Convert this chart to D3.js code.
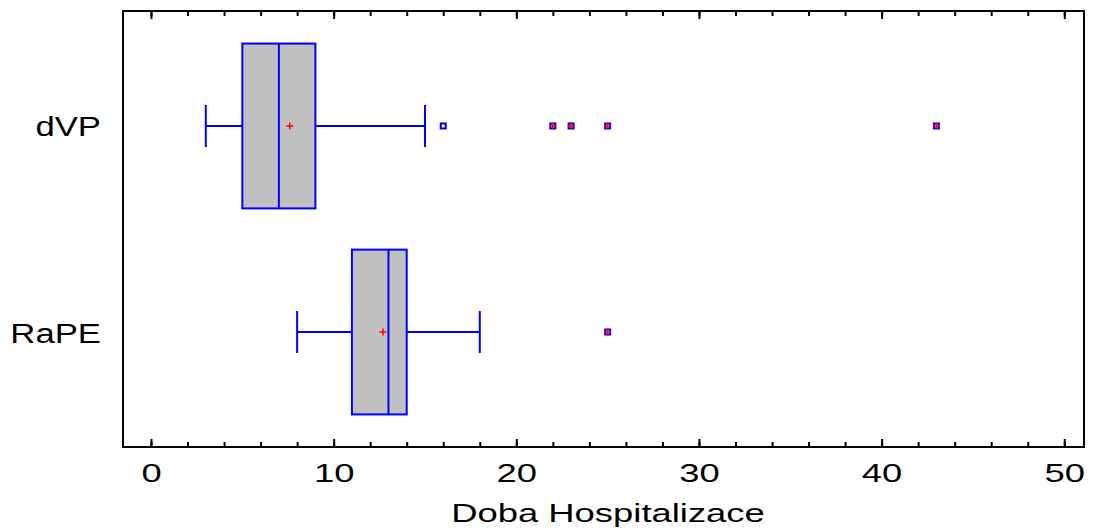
<!DOCTYPE html>
<html>
<head>
<meta charset="utf-8">
<script src="https://cdn.jsdelivr.net/npm/d3@7"></script>
<style>
  body { margin: 0; background: #fff; }
  svg { display: block; }
  text { font-family: "Liberation Sans", Arial, sans-serif; fill: #000; }
</style>
</head>
<body>
<div id="app"></div>
<script>
// box plot data
const categories = ["dVP", "RaPE"];
const lowWhisker = [3, 8];
const q1 = [5, 11];
const median = [7, 13];
const q3 = [9, 14];
const highWhisker = [15, 18];
const means = [7.6, 12.7];
const outliers = [[16, 22, 23, 25, 43], [25]];
const majorTicks = [0, 10, 20, 30, 40, 50];
const minorTicks = d3.range(0, 51, 2);
const xTitle = "Doba Hospitalizace";

const W = 1093, H = 528;
const plot = { left: 123, right: 1084, top: 11, bottom: 447 };

const svg = d3.select("#app").append("svg")
  .attr("width", W).attr("height", H);

const x = d3.scaleLinear().domain([-1.533, 51.08]).range([plot.left, plot.right]);
const y = d3.scalePoint().domain(categories).range([plot.top, plot.bottom]).padding(0.558);
const boxH = y.step() * 0.8;
const blue = "#0000ff";

//axes (ticks point inward)
const bottomAxis = svg.append("g").attr("transform", `translate(0,${plot.bottom})`);
bottomAxis.call(d3.axisBottom(x).tickValues(minorTicks).tickSize(-5).tickFormat(""));
bottomAxis.append("g").call(d3.axisBottom(x).tickValues(majorTicks).tickSize(-8).tickFormat(d3.format("d")));
bottomAxis.selectAll("text")
  .attr("y", 35).attr("dy", 0)
  .style("font-size", "26px")
  .attr("transform", "scale(1.4,1)");

const topAxis = svg.append("g").attr("transform", `translate(0,${plot.top})`);
topAxis.call(d3.axisTop(x).tickValues(minorTicks).tickSize(-5).tickFormat(""));
topAxis.append("g").call(d3.axisTop(x).tickValues(majorTicks).tickSize(-8).tickFormat(""));

svg.selectAll(".domain").remove();
svg.selectAll(".tick line").attr("stroke", "#000").attr("stroke-width", 2);

// frame
svg.append("rect")
  .attr("x", plot.left).attr("y", plot.top)
  .attr("width", plot.right - plot.left).attr("height", plot.bottom - plot.top)
  .attr("fill", "none").attr("stroke", "#000").attr("stroke-width", 2);

// category labels
categories.forEach((c) => {
  svg.append("text")
    .attr("transform", `translate(101,${y(c) + 10.5}) scale(1.24,1)`)
    .attr("text-anchor", "end")
    .style("font-size", "28px")
    .text(c);
});

// x title
svg.append("text")
  .attr("transform", `translate(608,521.5) scale(1.4,1)`)
  .attr("text-anchor", "middle")
  .style("font-size", "26px")
  .text(xTitle);

// boxes
const g = svg.selectAll(".box").data(categories).enter().append("g").attr("class", "box");

g.append("line")
  .attr("x1", (d, i) => x(lowWhisker[i])).attr("x2", (d, i) => x(q1[i]))
  .attr("y1", (d) => y(d)).attr("y2", (d) => y(d));
g.append("line")
  .attr("x1", (d, i) => x(q3[i])).attr("x2", (d, i) => x(highWhisker[i]))
  .attr("y1", (d) => y(d)).attr("y2", (d) => y(d));
g.append("line")
  .attr("x1", (d, i) => x(lowWhisker[i])).attr("x2", (d, i) => x(lowWhisker[i]))
  .attr("y1", (d) => y(d) - 21).attr("y2", (d) => y(d) + 21);
g.append("line")
  .attr("x1", (d, i) => x(highWhisker[i])).attr("x2", (d, i) => x(highWhisker[i]))
  .attr("y1", (d) => y(d) - 21).attr("y2", (d) => y(d) + 21);
g.append("rect")
  .attr("x", (d, i) => x(q1[i])).attr("width", (d, i) => x(q3[i]) - x(q1[i]))
  .attr("y", (d) => y(d) - boxH / 2).attr("height", boxH)
  .attr("fill", "#c0c0c0");
g.append("line")
  .attr("x1", (d, i) => x(median[i])).attr("x2", (d, i) => x(median[i]))
  .attr("y1", (d) => y(d) - boxH / 2).attr("y2", (d) => y(d) + boxH / 2);
g.selectAll("line, rect").attr("stroke", blue).attr("stroke-width", 2);

// plus marker
const plus = (sel, cx, cy, r) => {
  sel.append("path")
    .attr("d", `M${cx - r},${cy}H${cx + r}M${cx},${cy - r}V${cy + r}`)
    .attr("stroke", "#ff0000").attr("stroke-width", 1.5).attr("fill", "none");
};

g.each(function (d, i) {
  const sel = d3.select(this);
  const iqr = q3[i] - q1[i];
  plus(sel, x(means[i]), y(d), 3.5);
  outliers[i].forEach((v) => {
    sel.append("rect")
      .attr("x", x(v) - 2.5).attr("y", y(d) - 2.5)
      .attr("width", 5).attr("height", 5)
      .attr("fill", "#fff").attr("stroke", blue).attr("stroke-width", 2);
    // far outside points get a plus
    if (v > q3[i] + 3 * iqr || v < q1[i] - 3 * iqr) plus(sel, x(v), y(d), 3.5);
  });
});
</script>
</body>
</html>
